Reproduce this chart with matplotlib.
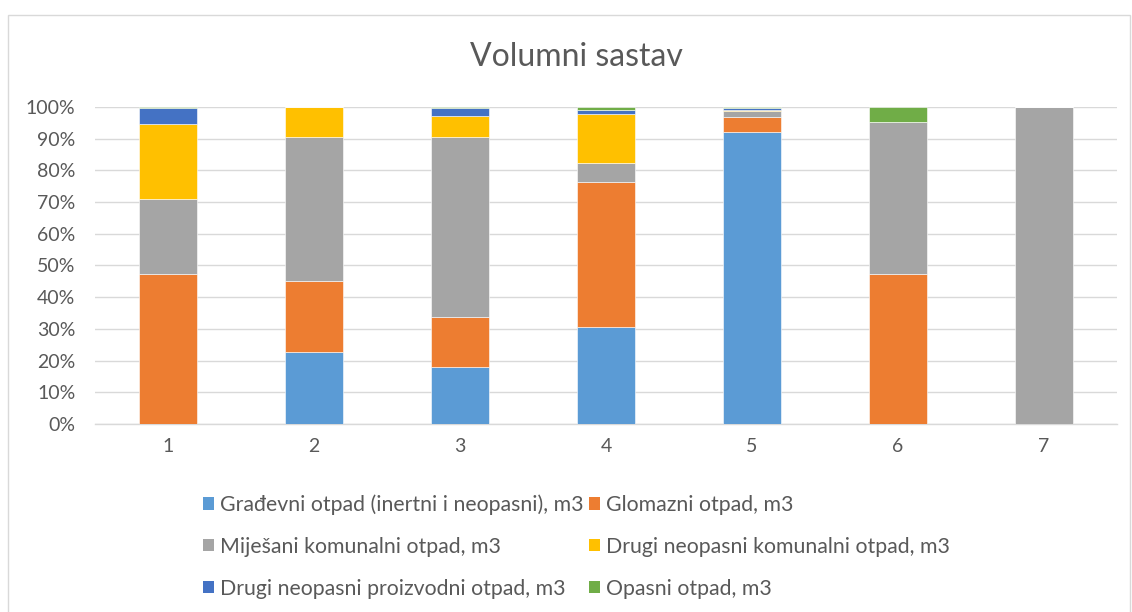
import matplotlib.pyplot as plt
import numpy as np
from matplotlib.patches import Rectangle, Patch

plt.rcParams['font.family'] = ['Lato', 'DejaVu Sans']

# -------------------------
# DATA (share in %)
# -------------------------
categories = ["1", "2", "3", "4", "5", "6", "7"]
gradjevni = [0.0, 22.8, 18.1, 30.5, 92.1, 0.0, 0.0]
glomazni = [47.4, 22.4, 15.7, 45.9, 4.8, 47.4, 0.0]
mijesani = [23.6, 45.3, 56.6, 6.0, 1.8, 47.8, 100.0]
drugi_kom = [23.6, 9.5, 6.9, 15.4, 0.4, 0.0, 0.0]
drugi_proiz = [5.0, 0.0, 2.3, 1.3, 0.6, 0.0, 0.0]
opasni = [0.4, 0.0, 0.4, 0.9, 0.3, 4.8, 0.0]

series_names = [
    "Građevni otpad (inertni i neopasni), m3",
    "Glomazni otpad, m3",
    "Miješani komunalni otpad, m3",
    "Drugi neopasni komunalni otpad, m3",
    "Drugi neopasni proizvodni otpad, m3",
    "Opasni otpad, m3",
]
series = [gradjevni, glomazni, mijesani, drugi_kom, drugi_proiz, opasni]
colors = ["#5B9BD5", "#ED7D31", "#A5A5A5", "#FFC000", "#4472C4", "#70AD47"]

fig = plt.figure(figsize=(11.32, 6.12), dpi=100)
ax = fig.add_axes([0.0839, 0.3072, 0.9029, 0.518])

x = np.arange(1, len(categories) + 1)
bottom = np.zeros(len(categories))
for vals, c in zip(series, colors):
    v = np.array(vals)
    ax.bar(x, v, 0.4, bottom=bottom, color=c, edgecolor="white",
           linewidth=0.4, zorder=3)
    bottom += v

ax.set_xlim(0.5, 7.5)
ax.set_ylim(0, 100)
ax.set_yticks(np.arange(0, 101, 10))
ax.set_yticklabels([f"{t}%" for t in range(0, 101, 10)])
ax.set_xticks(x)
ax.set_xticklabels(categories)
ax.tick_params(length=0, labelsize=14, colors="#595959")
ax.tick_params(axis="x", pad=10)
ax.tick_params(axis="y", pad=14)
ax.grid(axis="y", color="#D9D9D9", linewidth=1, zorder=0)
for s in ["top", "right", "left"]:
    ax.spines[s].set_visible(False)
ax.spines["bottom"].set_color("#D9D9D9")
ax.spines["bottom"].set_linewidth(1)

fig.text(0.509, 1 - 57 / 612, "Volumni sastav", ha="center", va="center",
         fontsize=23, color="#595959")

# legend rows are read left-to-right, matplotlib fills columns first
order = [0, 2, 4, 1, 3, 5]
handles = [Patch(facecolor=colors[i], label=series_names[i]) for i in order]
fig.legend(handles=handles, ncol=2, loc="upper left",
           bbox_to_anchor=(0.172, 1 - 486 / 612), frameon=False,
           fontsize=15.3, labelcolor="#595959", handlelength=0.5,
           handleheight=0.5, handletextpad=0.3, columnspacing=0.25,
           labelspacing=1.03, borderaxespad=0)

fig.patches.append(Rectangle((0.007, -0.01), 0.991, 1 - 15 / 612 + 0.01,
                             transform=fig.transFigure, fill=False,
                             edgecolor="#D9D9D9", linewidth=1))

fig.savefig("out.png", dpi=100)
